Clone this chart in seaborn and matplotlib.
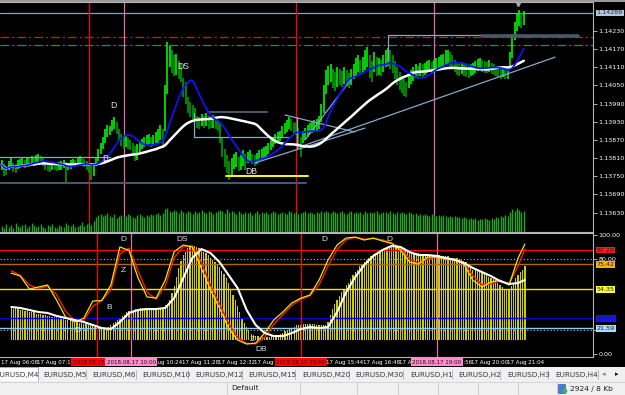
import numpy as np
import pandas as pd
import matplotlib
matplotlib.use("Agg")
import matplotlib.pyplot as plt
from matplotlib.patches import Rectangle, Circle
import seaborn as sns

sns.set_theme(style="dark")
plt.rcParams['font.family'] = ['Liberation Sans Narrow', 'DejaVu Sans']
plt.rcParams['patch.edgecolor'] = 'none'

# ---------------- data (EURUSD M4, prices in points above BASE) ----------------
BASE = 1.13000
PT = 0.00001

high_pts = [805, 790, 785, 800, 810, 795, 790, 805,
            808, 812, 805, 815, 810, 818, 812,
            820, 825, 818, 812,
            800, 795, 790, 798, 795, 790, 797,
            800, 805, 798, 795,
            802, 808, 805, 812, 818, 815, 808,
            800, 792, 785, 790,
            815, 840,
            860, 880, 905, 920, 915,
            935, 945, 930,
            905, 890, 880, 885, 875, 870,
            860, 850, 855, 865,
            872, 880, 885, 890, 878, 885, 895,
            905, 920, 905,
            1050, 1192,
            1180, 1165, 1150,
            1155, 1130, 1120,
            1075, 1060,
            1010, 995, 985, 975,
            950, 945, 955, 948, 958, 950, 945, 952, 940, 935,
            925, 880,
            840, 820, 800, 810,
            825, 830, 815, 820, 835, 825,
            830, 835, 825, 820, 828, 835, 840, 846, 850,
            860, 870, 880, 890, 895, 900,
            915, 925, 935, 945, 938, 930, 925,
            910, 880,
            900, 910, 918, 925, 930, 935, 940, 950,
            990, 1050, 1100,
            1115, 1120, 1105, 1095, 1110,
            1105, 1098, 1110, 1100, 1090, 1105,
            1120, 1140, 1150, 1135, 1145,
            1165, 1175, 1150, 1130, 1160, 1145,
            1140, 1135, 1150, 1165, 1172, 1168, 1150,
            1130, 1110, 1095, 1080, 1070, 1060,
            1085, 1100, 1110, 1120, 1115, 1125, 1120,
            1125, 1130, 1135, 1128, 1132, 1140, 1145, 1150, 1155,
            1165, 1168, 1160, 1150,
            1135, 1125, 1120, 1128, 1122, 1118, 1115, 1120, 1125,
            1130, 1138, 1140, 1135, 1130, 1128, 1132, 1125, 1120,
            1112, 1108, 1105, 1110,
            1100, 1105,
            1160, 1220,
            1260, 1285,
            1298, 1290, 1295]

low_pts = [770, 750, 755, 770, 780, 765, 760, 775,
           780, 785, 778, 790, 782, 792, 785,
           795, 798, 790, 785,
           772, 768, 765, 770, 772, 766, 770,
           772, 778, 728, 770,
           775, 780, 782, 788, 795, 790, 782,
           770, 760, 738, 752,
           785, 800,
           825, 840, 860, 880, 885,
           900, 905, 890,
           865, 850, 840, 845, 840, 835,
           825, 800, 805, 830,
           840, 845, 850, 855, 845, 850, 860,
           860, 870, 845,
           900, 1020,
           1110, 1090, 1080,
           1085, 1070, 1060,
           1010, 990,
           960, 945, 940, 935,
           910, 905, 915, 908, 915, 905, 908, 910, 905, 900,
           860, 815,
           780, 760, 738, 755,
           775, 780, 768, 770, 785, 772,
           795, 798, 790, 785, 790, 800, 805, 810, 815,
           825, 835, 845, 855, 860, 865,
           880, 890, 895, 905, 900, 890, 885,
           840, 812,
           860, 870, 880, 888, 892, 898, 900, 905,
           930, 960, 1020,
           1050, 1060, 1040, 1030, 1045,
           1050, 1045, 1055, 1048, 1040, 1052,
           1070, 1080, 1095, 1085, 1090,
           1100, 1110, 1075, 1060, 1095, 1080,
           1085, 1080, 1095, 1110, 1115, 1105, 1090,
           1070, 1050, 1035, 1025, 1015, 1010,
           1040, 1055, 1065, 1075, 1070, 1080, 1075,
           1085, 1090, 1095, 1088, 1092, 1098, 1100, 1105, 1110,
           1115, 1120, 1112, 1105,
           1095, 1085, 1080, 1088, 1082, 1078, 1075, 1080, 1085,
           1092, 1098, 1100, 1095, 1092, 1090, 1095, 1088, 1085,
           1080, 1075, 1070, 1078,
           1070, 1072,
           1100, 1140,
           1200, 1230,
           1245, 1240, 1250]

volume = [60, 45, 80, 55, 70, 40, 90, 65, 50, 75,
          85, 45, 60, 95, 70, 50, 65, 80, 55, 40,
          70, 60, 85, 50, 45, 75, 65, 55, 90, 70,
          60, 80, 50, 65, 75, 100, 60, 85, 95, 70, 110,
          150, 170, 185, 160, 175, 190, 165, 150, 180, 140,
          160, 175, 150, 165, 185, 170, 155, 145, 170, 180,
          160, 150, 175, 165, 185, 170, 180, 195, 175, 190,
          230, 240, 215, 200, 225, 210, 195, 220, 205, 190,
          215, 200, 185, 210, 195, 205, 220, 200, 190, 215,
          205, 185, 200, 215, 225, 210, 195, 230, 205, 215,
          200, 185, 210, 195, 180, 205, 190, 200, 175, 195,
          210, 185, 200, 190, 205, 180, 195, 210, 200, 185,
          190, 205, 195, 180, 210, 200, 190, 205, 185, 195,
          200, 210, 190, 205, 195, 185, 200, 190, 210, 205,
          215, 205, 195, 210, 200, 190, 205, 215, 195, 185,
          200, 210, 190, 205, 195, 200, 185, 210, 195, 205,
          190, 200, 210, 185, 195, 205, 200, 190, 210, 195,
          185, 200, 195, 205, 190, 180, 200, 195, 185, 190,
          175, 185, 170, 180, 175, 165, 180, 170, 160, 175,
          165, 170, 160, 155, 165, 150, 160, 155, 150, 145,
          150, 140, 135, 145, 130, 140, 125, 135, 130, 145,
          130, 125, 140, 135, 150, 145, 160, 150, 170, 165,
          200, 230, 215, 240, 220, 205, 210]

hist_vals = [39, 38, 39, 38, 37, 37, 36, 36, 35, 35,
             35, 34, 34, 34, 33, 33, 32, 32, 31, 31,
             31, 30, 30, 30, 29, 29, 29, 28, 27, 27,
             26, 26, 25, 25, 24, 24, 24, 23, 23, 23,
             23, 22, 22, 23, 24, 26, 27, 29, 30, 32,
             33, 35, 36, 37, 37, 38, 38, 39, 39, 39,
             38, 38, 38, 37, 37, 37, 38, 39, 41, 42,
             45, 51, 57, 65, 72, 78, 83, 86, 89, 90,
             91, 91, 90, 89, 88, 86, 85, 83, 81, 79,
             77, 75, 73, 70, 67, 64, 60, 55, 50, 45,
             40, 35, 30, 26, 23, 20, 17, 16, 15, 15,
             14, 14, 14, 14, 14, 15, 15, 16, 16, 17,
             18, 19, 20, 21, 22, 23, 24, 24, 24, 25,
             25, 25, 25, 25, 25, 24, 24, 24, 24, 24,
             27, 33, 38, 42, 45, 49, 52, 55, 58, 60,
             63, 66, 69, 71, 74, 75, 77, 79, 81, 82,
             84, 85, 86, 87, 88, 89, 89, 90, 91, 91,
             92, 91, 90, 89, 88, 87, 86, 86, 85, 85,
             85, 84, 84, 84, 84, 83, 83, 83, 83, 83,
             82, 82, 82, 82, 81, 81, 81, 81, 80, 79,
             78, 77, 74, 72, 71, 71, 70, 69, 68, 68,
             67, 65, 64, 63, 62, 60, 58, 56, 55, 54,
             55, 57, 60, 64, 66, 69, 71, 74]
HIST_BASE = 12

osc_bars = list(range(0, 228, 4)) + [227]
osc_k = [68, 65.5, 54.6, 56.3, 58, 45.4, 31, 27, 30, 44.5, 45, 58, 90, 87, 64, 48,
         47, 62, 86, 91.6, 90, 72, 54, 38.7, 21.8, 11.8, 8.4, 9.2, 17.6, 28.6, 35.3,
         42.9, 47, 49.6, 62, 79, 91.6, 97.5, 98.3, 95.8, 97.5, 95, 93, 87.4, 77.3,
         75.6, 81.5, 81.5, 79.8, 79.8, 75.6, 62, 56.3, 60.5, 62, 58, 80.7, 92.4]
osc_d = [70, 66, 58, 55, 57, 50, 36, 28, 28, 40, 45, 54, 84, 89, 70, 52, 46, 57, 81,
         90, 91, 77, 58, 42, 26, 14, 9, 8.5, 14, 25, 33, 41, 46, 49, 58, 74, 88, 96,
         98, 96.5, 97, 96, 93.5, 89, 80, 76, 80, 81.5, 80, 79.8, 77, 66, 58, 59,
         61.5, 59, 74, 88]
osc_w = [39.5, 38.7, 37, 35.3, 34.5, 32, 30.3, 28.6, 26.9, 24.4, 21.8, 21,
         26.9, 34.5, 37, 37.8, 37.8, 38.7, 47, 63.9, 80.7, 88.2, 84.9, 77.3,
         66.4, 55.5, 37, 24.4, 17.6, 15.1, 15.1, 17.6, 21, 22.7, 21.8, 22.7,
         35.3, 52, 64.7, 74.8, 82.4, 87.4, 90.8, 90, 85.7, 83.2, 83.2, 82.4,
         80.7, 79, 76.5, 72.3, 68.9, 65.5, 61.3, 58.8, 59.7, 62.2]

price_ticks = [1.14230, 1.14170, 1.14110, 1.14050, 1.13990, 1.13930,
               1.13870, 1.13810, 1.13750, 1.13690, 1.13630]
current_price = 1.14289
red_level = 1.14208
green_level = 1.14183

# (bar0, price0, bar1, price1)
light_lines = [(-1, 1.13814, 47.1, 1.13814),
               (83.6, 1.13959, 83.6, 1.13880),
               (83.6, 1.13880, 125.3, 1.13880),
               (123.2, 1.13952, 153.6, 1.13896),
               (110.1, 1.13794, 158.0, 1.13909),
               (128.4, 1.13946, 128.4, 1.13844),
               (129.7, 1.13847, 240.6, 1.14143),
               (131.9, 1.13870, 152.3, 1.14074),
               (168.0, 1.14216, 250.6, 1.14216),
               (168.0, 1.14216, 168.0, 1.14133)]
slate_lines = [(-1, 1.13728, 132.3, 1.13728, 1.5),
               (89.8, 1.13962, 115.3, 1.13962, 1.5),
               (209.3, 1.14213, 250.6, 1.14213, 2.6)]
db_line = (97.5, 1.13751, 133.2, 1.13751)

main_marks = [("D", 48.4, 1.13985), ("DS", 79.0, 1.14112),
              ("DB", 108.5, 1.13765), ("B", 44.8, 1.13810)]
osc_marks = [("D", 49.7, 96), ("Z", 49.3, 70), ("B", 43.2, 39.5), ("D", 29.3, 20),
             ("DS", 75.4, 96), ("Z", 106.7, 12), ("DB", 110.6, 3.5),
             ("D", 138.4, 96), ("D", 167.0, 96)]

osc_levels = [87.29, 75.42, 54.35, 30.10, 21.59]
osc_level_colors = ['#ff0000', '#b46a00', '#e6e600', '#0000d8', '#87cefa']
osc_label_bg = ['#ff1a1a', '#ffb000', '#ffff30', '#1414ff', '#a8dcff']

time_tick_bars = list(range(-5, 220, 16))
time_labels = ["17 Aug 06:08", "17 Aug 07:12", "17 Aug 08:16", "17 Aug 09:20",
               "17 Aug 10:24", "17 Aug 11:28", "17 Aug 12:32", "17 Aug 13:36",
               "17 Aug 14:40", "17 Aug 15:44", "17 Aug 16:48", "17 Aug 17:52",
               "17 Aug 18:56", "17 Aug 20:00", "17 Aug 21:04"]
vline_bars = [38, 53, 128, 188]
vline_colors = ['#ff0000', '#dd6fb0', '#ff0000', '#dd6fb0']
vline_bg = ['#ff0000', '#ff8ccc', '#ff0000', '#ff8ccc']
vline_labels = ["2018.08.17 09:00", "2018.08.17 10:00",
                "2018.08.17 15:00", "2018.08.17 19:00"]

tab_names = ["EURUSD,M4", "EURUSD,M5", "EURUSD,M6", "EURUSD,M10", "EURUSD,M12",
             "EURUSD,M15", "EURUSD,M20", "EURUSD,M30", "EURUSD,H1", "EURUSD,H2",
             "EURUSD,H3", "EURUSD,H4"]

# ---------------- derived ----------------
bars = np.arange(len(high_pts))
high = BASE + np.array(high_pts) * PT
low = BASE + np.array(low_pts) * PT
df = pd.DataFrame({"bar": bars, "high": high, "low": low,
                   "median": (high + low) / 2, "volume": volume})
df["ma_fast"] = df["median"].rolling(12, min_periods=1).mean()
df["ma_slow"] = df["median"].rolling(40, min_periods=1).mean()
up = np.r_[True, np.diff(df["median"].values) >= 0]

# ---------------- figure ----------------
W, H = 625, 395
fig = plt.figure(figsize=(6.25, 3.95), dpi=100, facecolor="black")

XL = (-0.74, 257.1)
ax = fig.add_axes([0, 163 / H, 593 / W, 230 / H])
axo = fig.add_axes([0, 38 / H, 593 / W, 124 / H])
for a in (ax, axo):
    a.set_facecolor("black")
    a.set_xlim(*XL)
    a.grid(False)
    for s in a.spines.values():
        s.set_color("#b4b4b4")
        s.set_linewidth(0.8)
    a.spines["left"].set_visible(False)

ax.set_ylim(1.13566, 1.14325)
axo.set_ylim(-2.5, 101.7)

# volume (overlay)
axv = ax.twinx()
axv.set_ylim(0, 2300)
axv.yaxis.set_visible(False)
for s in axv.spines.values():
    s.set_visible(False)
axv.vlines(df["bar"], 0, df["volume"], color="#1fa51f", lw=1.0)

# price bars
ax.vlines(df["bar"][up], df["low"][up], df["high"][up], color="#00ff00", lw=1.15, zorder=3)
ax.vlines(df["bar"][~up], df["low"][~up], df["high"][~up], color="#00a400", lw=1.15, zorder=3)

# horizontal levels
ax.axhline(current_price, color="#8ca0b8", lw=0.9, zorder=2)
ax.axhline(red_level, color="#d81818", lw=0.9, ls=(0, (7, 2.5, 1.5, 2.5)), zorder=2)
ax.axhline(green_level, color="#1c9c1c", lw=0.9, ls=(0, (7, 2.5, 1.5, 2.5)), zorder=2)
for x0, y0, x1, y1 in light_lines:
    ax.plot([x0, x1], [y0, y1], color="#86a8cc", lw=0.9, zorder=4)
for x0, y0, x1, y1, lw in slate_lines:
    ax.plot([x0, x1], [y0, y1], color="#46586a", lw=lw, zorder=4)
ax.plot([db_line[0], db_line[2]], [db_line[1], db_line[3]], color="#ffff00", lw=1.4, zorder=4)

# moving averages
sns.lineplot(data=df, x="bar", y="ma_slow", ax=ax, color="white", lw=1.8, zorder=5)
sns.lineplot(data=df, x="bar", y="ma_fast", ax=ax, color="#0a14ff", lw=1.3, zorder=6)

ax.plot([224.5], [1.14318], marker="v", color="#a8a8a8", ms=3.2, zorder=7)

for t, b, p in main_marks:
    ax.text(b, p, t, color="#e6e6e6", fontsize=6.2, ha="center", va="center",
            family=["Liberation Sans", "DejaVu Sans"], zorder=8)

ax.set_yticks(price_ticks)
ax.set_yticklabels([f"{p:.5f}" for p in price_ticks])
ax.yaxis.tick_right()
ax.set_xticks([])
ax.tick_params(axis="y", colors="#c8c8c8", labelcolor="white", length=3, width=0.6,
               pad=1.0, labelsize=4.6, direction="out")
ax.set_xlabel("")
ax.set_ylabel("")
ax.text(1.006, current_price, f"{current_price:.5f}", transform=ax.get_yaxis_transform(),
        fontsize=4.6, color="#1a2a3a", va="center", ha="left", clip_on=False,
        bbox=dict(fc="#b4c6dc", ec="none", pad=0.5), zorder=10)

# vertical event lines
for b, c in zip(vline_bars, vline_colors):
    ax.axvline(b, color=c, lw=0.9, zorder=2.5)
    axo.axvline(b, color=c, lw=0.9, zorder=2.5)

# ---------------- oscillator ----------------
hist_h = np.array(hist_vals) - HIST_BASE
axo.bar(bars, hist_h, bottom=HIST_BASE, width=0.55, color="#cccc00",
        edgecolor="none", linewidth=0, zorder=1)
for lvl, c in zip(osc_levels, osc_level_colors):
    axo.axhline(lvl, color=c, lw=1.0, zorder=2)
for lvl in (80, 20):
    axo.axhline(lvl, color="#bdbdbd", lw=0.8, ls=(0, (1, 2)), zorder=2)

sns.lineplot(x=osc_bars, y=osc_d, ax=axo, color="#ff1a00", lw=1.0, zorder=3)
sns.lineplot(x=osc_bars, y=osc_k, ax=axo, color="#e8e800", lw=0.9, zorder=4)
sns.lineplot(x=osc_bars, y=osc_w, ax=axo, color="white", lw=1.5, zorder=5)

for t, b, v in osc_marks:
    axo.text(b, v, t, color="#d6e2ee", fontsize=6.0, ha="center", va="center",
             family=["Liberation Sans", "DejaVu Sans"], zorder=8)

axo.yaxis.tick_right()
axo.set_yticks([100, 80, 20, 0])
axo.set_yticklabels(["100.00", "80.00", "20.00", "0.00"])
axo.tick_params(axis="y", colors="#c8c8c8", labelcolor="white", length=3, width=0.6,
                pad=1.0, labelsize=4.6, direction="out")
axo.set_xticks(time_tick_bars)
axo.tick_params(axis="x", colors="#c8c8c8", length=2, width=0.6, labelbottom=False)
axo.set_xlabel("")
axo.set_ylabel("")
for lvl, bg in zip(osc_levels, osc_label_bg):
    axo.text(1.006, lvl, f"{lvl:.2f}", transform=axo.get_yaxis_transform(), fontsize=4.6,
             color="#202020", va="center", ha="left", clip_on=False,
             bbox=dict(fc=bg, ec="none", pad=0.6), zorder=10)

xt = axo.get_xaxis_transform()
for b, lab in zip(time_tick_bars, time_labels):
    axo.text(b + 0.3, -0.042, lab, transform=xt, color="white", fontsize=4.0,
             ha="left", va="center", clip_on=False, zorder=9)
for b, lab, bg in zip(vline_bars, vline_labels, vline_bg):
    axo.text(b, -0.042, lab, transform=xt, color="#101010", fontsize=4.0,
             ha="center", va="center", clip_on=False, zorder=11,
             bbox=dict(fc=bg, ec="none", pad=0.9))

# ---------------- window chrome (tabs + status bar) ----------------
ui = fig.add_axes([0, 0, 1, 1], zorder=-1)
ui.set_xlim(0, W)
ui.set_ylim(H, 0)
ui.axis("off")
ui.add_patch(Rectangle((0, 0), W, 2, fc="#9a9a9a", ec="none"))
ui.add_patch(Rectangle((0, 367), W, 14, fc="#f0f0f0", ec="none"))
ui.add_patch(Rectangle((-2, 367), 40, 14, fc="white", ec="#a0a0a0", lw=0.6))
ui.add_patch(Rectangle((0, 381), W, 14, fc="#f0f0f0", ec="none"))
ui.plot([0, W], [381.5, 381.5], color="#d0d0d0", lw=0.6)
tab_x = [-5, 43, 92, 142, 195, 248, 302, 355, 410, 458, 507, 555]
for x, name in zip(tab_x, tab_names):
    ui.text(x, 374.5, name, fontsize=5.2, color="#303a48", ha="left", va="center",
            family=["Liberation Sans Narrow", "DejaVu Sans"])
for x in [86, 136, 188, 242, 295, 349, 403, 452, 500, 548, 598]:
    ui.plot([x, x], [370, 379], color="#b0b0b0", lw=0.6)
ui.text(604, 374.5, "\u25c2", fontsize=5, color="#808080", ha="center", va="center",
        family=["DejaVu Sans"])
ui.text(617, 374.5, "\u25b8", fontsize=5, color="#101010", ha="center", va="center",
        family=["DejaVu Sans"])
for x in [227, 300, 357, 398, 438, 478, 518, 557]:
    ui.plot([x, x], [383, 394], color="#c8c8c8", lw=0.6)
ui.text(231, 388.5, "Default", fontsize=5.4, color="#202020", ha="left", va="center",
        family=["Liberation Sans Narrow", "DejaVu Sans"])
ui.add_patch(Rectangle((558, 383.5), 7, 9.5, fc="#3f7fd6", ec="#2050a0", lw=0.4))
ui.add_patch(Circle((565, 391), 2.3, fc="#3cb83c", ec="none"))
ui.text(570, 388.5, "2924 / 8 Kb", fontsize=5.4, color="#202020", ha="left", va="center",
        family=["Liberation Sans Narrow", "DejaVu Sans"])

fig.savefig("out.png", dpi=100, facecolor="black")
